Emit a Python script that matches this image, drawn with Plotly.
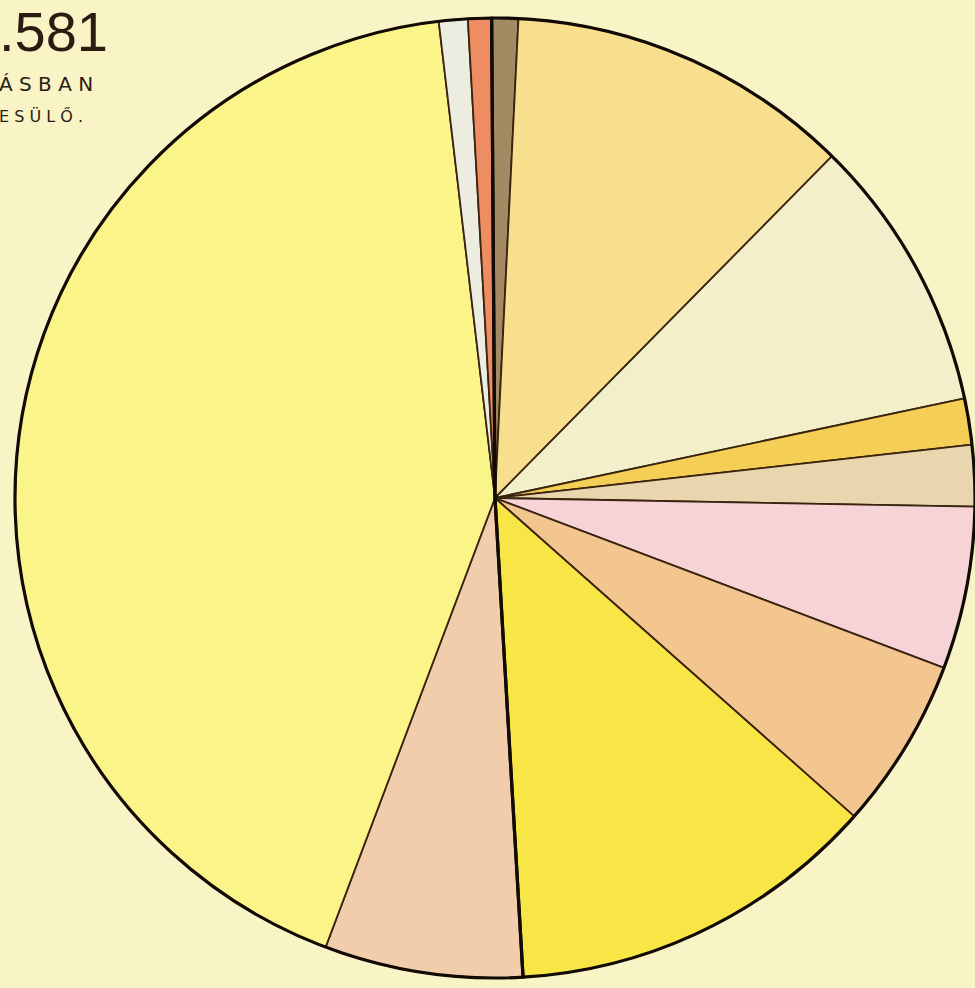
import plotly.graph_objects as go

# Slice shares (percent of circle), clockwise from the thick line at 12 o'clock
labels = ["barna", "sárga-okker", "krém", "arany", "szürkésbarna", "rózsaszín",
          "narancs", "élénksárga", "barack", "citromsárga", "fehér", "vörös"]
shares = [0.89, 11.61, 9.28, 1.56, 2.06, 5.47, 5.78, 12.53, 6.67, 42.39, 0.97, 0.79]
colors = ["#a48a62", "#f7df8e", "#f2efca", "#f5cf55", "#e9d6ae", "#f6d3d6",
          "#f3c690", "#f8e546", "#f2cdac", "#fbf489", "#ecece0", "#ee8c62"]

# the two thick black radii split the circle into these halves
halves = [sum(shares[:8]), sum(shares[8:])]

BG = "#f9f4c6"
INK = "#2a1c10"
DOMAIN = dict(x=[15 / 975, 1.0], y=[10 / 988, 970 / 988])

fig = go.Figure()
fig.add_trace(go.Pie(
    labels=labels, values=shares, sort=False, direction="clockwise", rotation=-0.4,
    marker=dict(colors=colors, line=dict(color="#3a2410", width=1.8)),
    textinfo="none", hoverinfo="label+percent", domain=DOMAIN,
))
fig.add_trace(go.Pie(
    labels=["a", "b"], values=halves, sort=False, direction="clockwise", rotation=-0.4,
    marker=dict(colors=["rgba(0,0,0,0)", "rgba(0,0,0,0)"], line=dict(color="#120a04", width=3.2)),
    textinfo="none", hoverinfo="skip", domain=DOMAIN,
))

fig.add_annotation(x=0, y=1.0, xref="paper", yref="paper", xanchor="left", yanchor="top",
                   xshift=-3, yshift=2,
                   text=".581", showarrow=False,
                   font=dict(family="Liberation Sans", size=56, color=INK))
fig.add_annotation(x=0, y=1.0, xref="paper", yref="paper", xanchor="left", yanchor="top",
                   yshift=-70, xshift=-3,
                   text="Á S B A N", showarrow=False,
                   font=dict(family="DejaVu Sans", size=20, color=INK))
fig.add_annotation(x=0, y=1.0, xref="paper", yref="paper", xanchor="left", yanchor="top",
                   yshift=-104, xshift=-3,
                   text="E S Ü L Ő .", showarrow=False,
                   font=dict(family="DejaVu Sans", size=16, color=INK))

fig.update_layout(
    width=975, height=988, showlegend=False,
    margin=dict(t=0, b=0, l=0, r=0),
    paper_bgcolor=BG, plot_bgcolor=BG,
)
fig.write_html("out.html", config={"displayModeBar": False},
               post_script="document.body.style.margin='0';")
